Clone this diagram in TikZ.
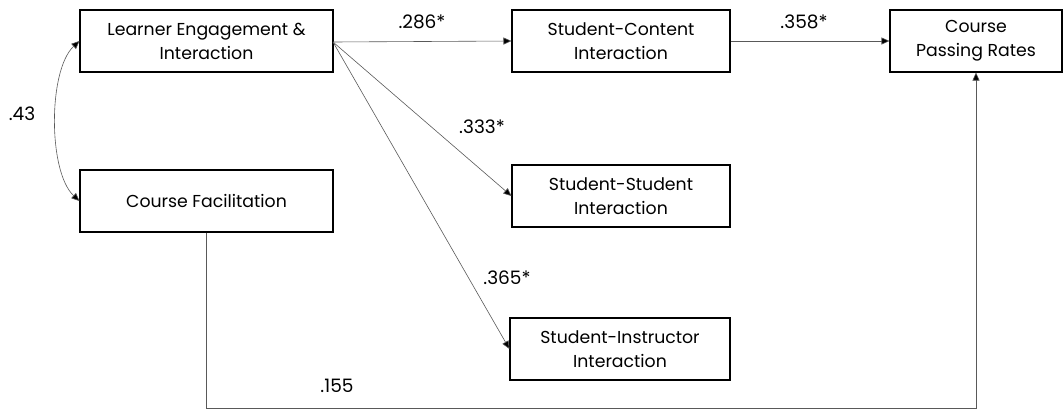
\documentclass[tikz,border=0pt]{standalone}
\usepackage{fontspec}
\setmainfont{Poppins}
\usetikzlibrary{arrows.meta}
\begin{document}
\begin{tikzpicture}[x=1pt,y=-1pt,
  box/.style={draw=black,line width=1.1pt,minimum height=62pt,align=center,font=\fontsize{17.3}{24}\selectfont,inner sep=0pt},
  conn/.style={draw=black!65,line width=0.6pt,-{Triangle[length=8pt,width=7pt,fill=black]}},
  lab/.style={font=\fontsize{18.5}{21}\selectfont}]
\useasboundingbox (0,0) rectangle (1063,410);
\node[box,minimum width=253pt] (le) at (206.5,41) {Learner Engagement \&\\Interaction};
\node[box,minimum width=253pt] (cf) at (206.5,201) {Course Facilitation};
\node[box,minimum width=218pt] (sc) at (621,41) {Student-Content\\Interaction};
\node[box,minimum width=172pt] (pr) at (976,41) {Course\\Passing Rates};
\node[box,minimum width=218pt] (ss) at (621,196) {Student-Student\\Interaction};
\node[box,minimum width=220pt] (si) at (620,349) {Student-Instructor\\Interaction};
\coordinate (o) at (333,42);
\draw[conn] (o) -- (sc.west);
\draw[conn] (o) -- (ss.west);
\draw[conn] (o) -- (si.west);
\draw[conn] (sc.east) -- (pr.west);
\draw[draw=black!65,line width=0.6pt,{Triangle[length=8pt,width=7pt,fill=black]}-{Triangle[length=8pt,width=7pt,fill=black]}] (le.west) .. controls (48,70) and (48,172) .. (cf.west);
\coordinate (c1) at (cf.south |- 0,408.5);
\coordinate (c2) at (pr.south |- 0,408.5);
\draw[conn] (cf.south) -- (c1) -- (c2) -- (pr.south);
\node[lab] (l1) at (422,22) {.286*};
\node[lab] (l2) at (804,22) {.358*};
\node[lab] (l3) at (482,127) {.333*};
\node[lab] (l4) at (507,278) {.365*};
\node[lab] (l5) at (22,114) {.43};
\node[lab] (l6) at (337,386) {.155};
\end{tikzpicture}
\end{document}
